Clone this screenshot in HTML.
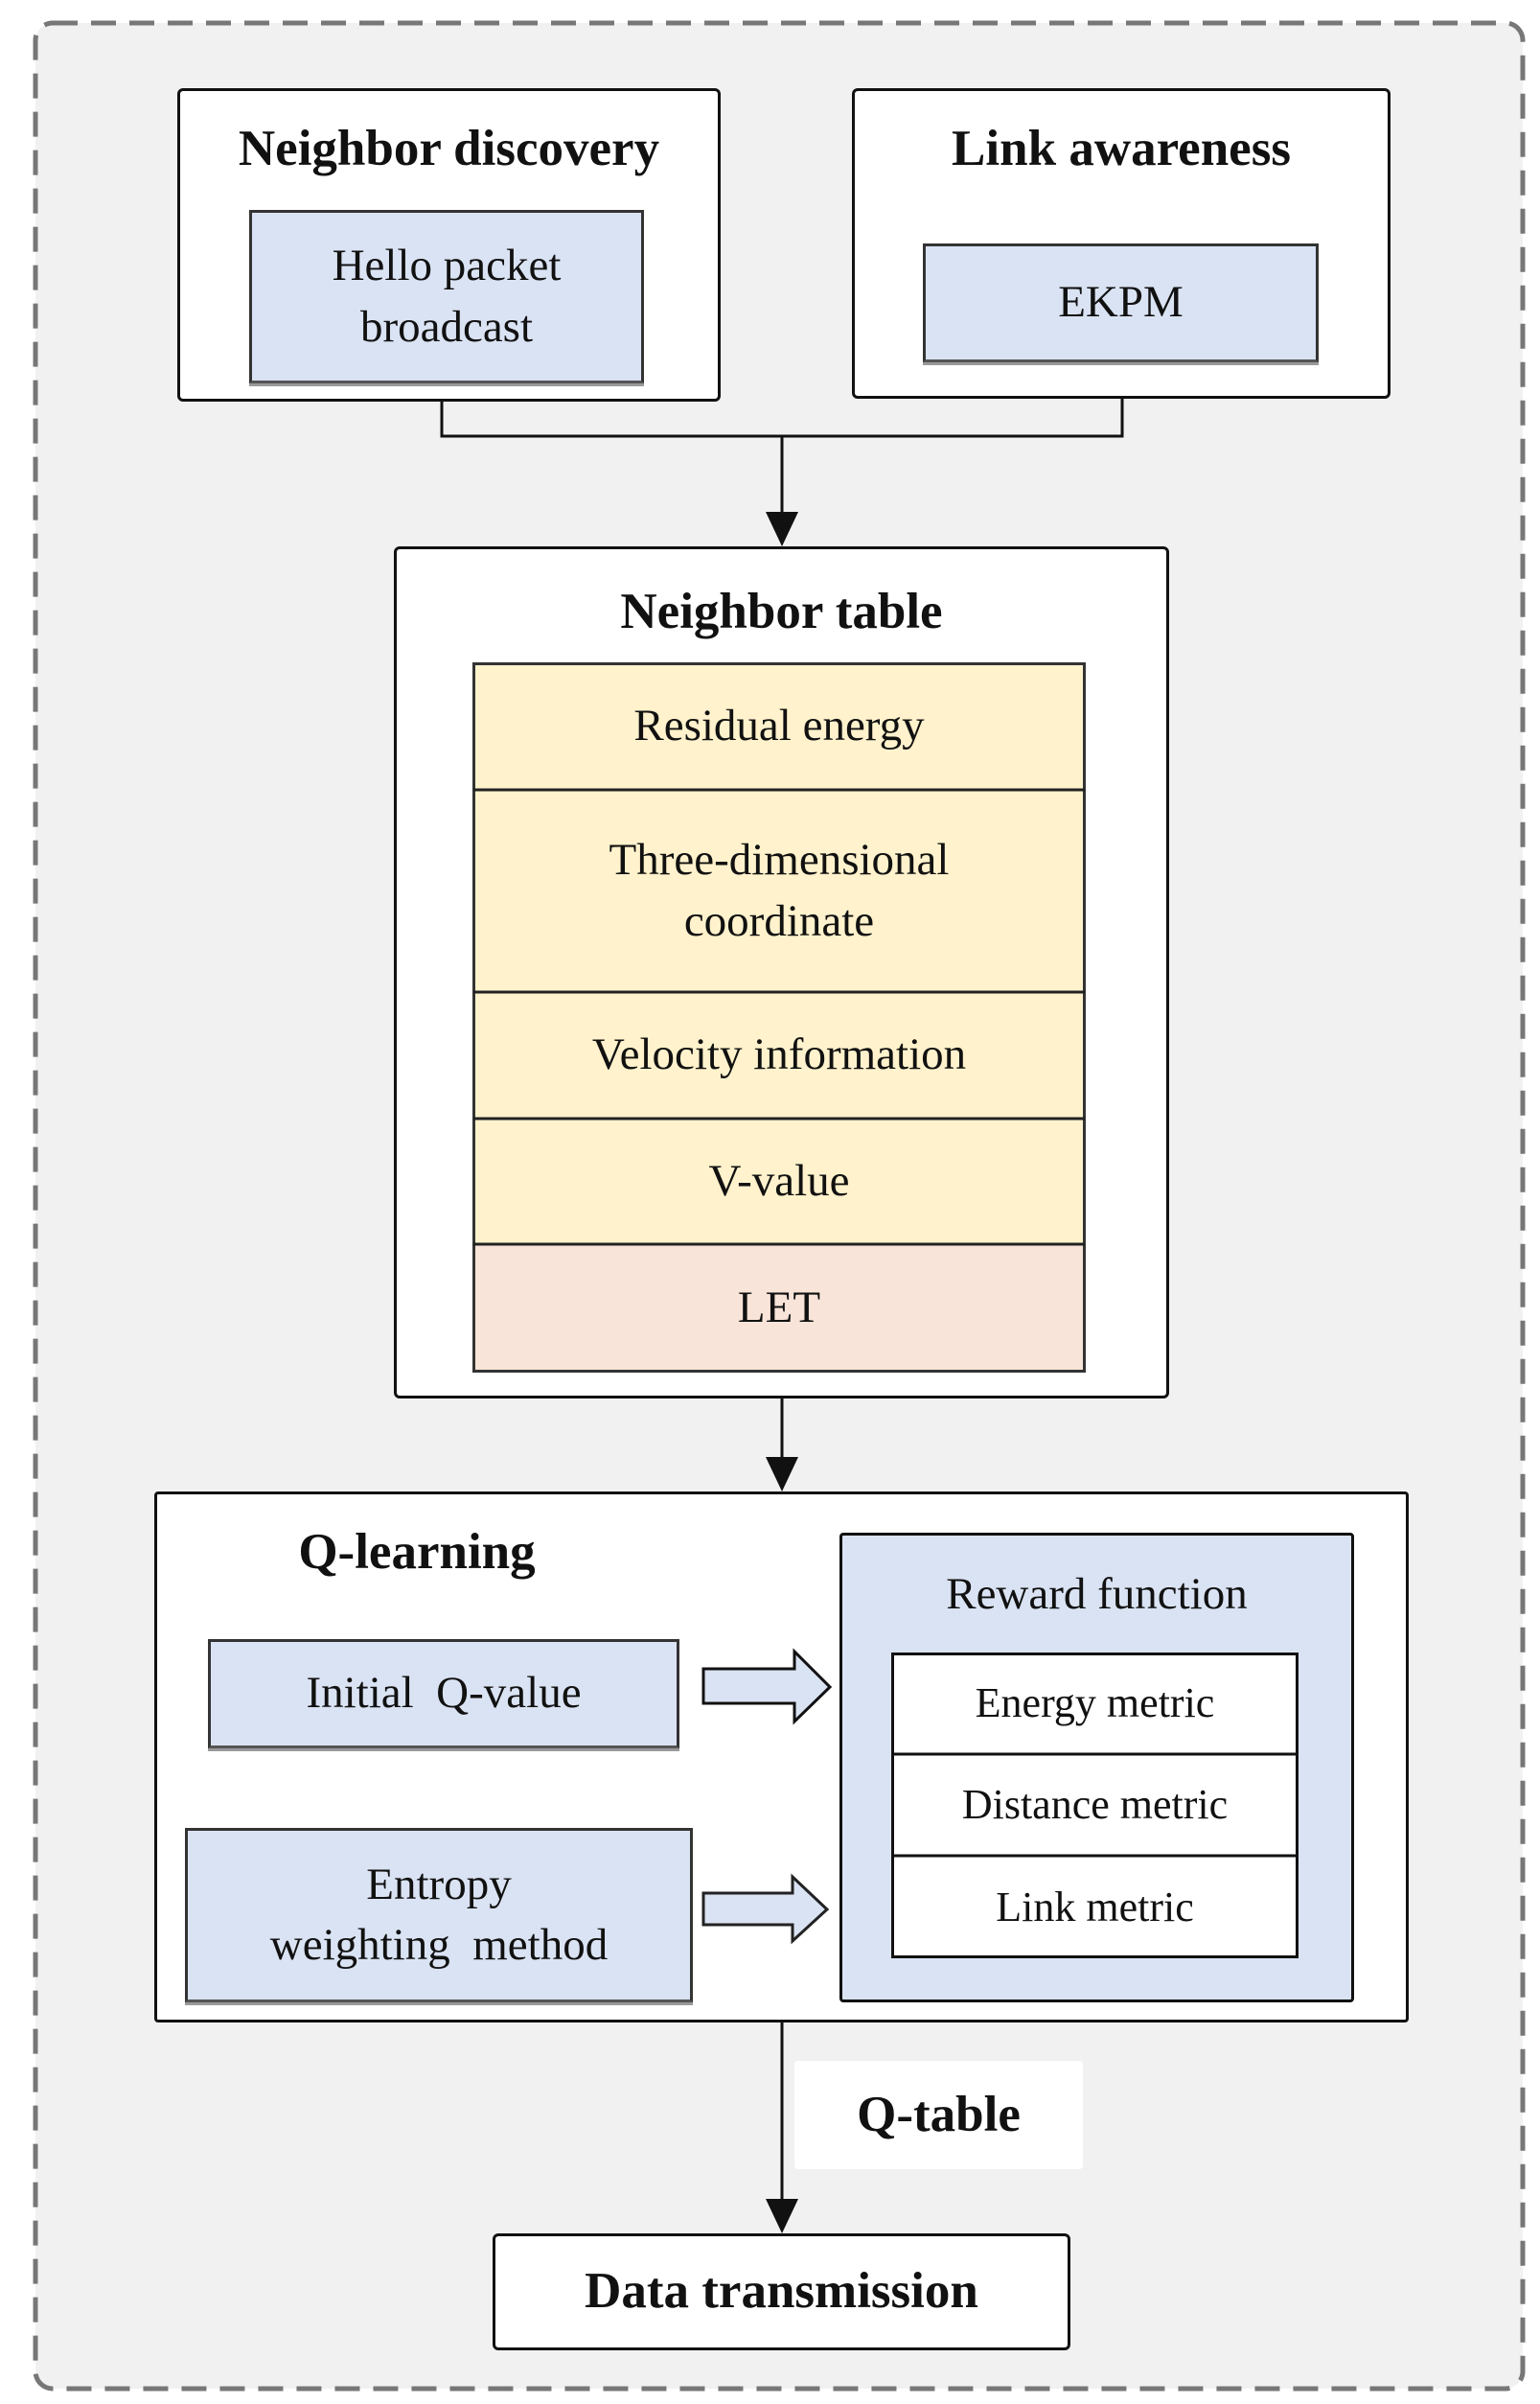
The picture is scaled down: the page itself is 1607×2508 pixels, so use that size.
<!DOCTYPE html>
<html><head><meta charset="utf-8"><style>
html,body{margin:0;padding:0;width:1607px;height:2508px;background:#fff;overflow:hidden;}
.a{position:absolute;box-sizing:border-box;display:flex;align-items:center;justify-content:center;text-align:center;font-family:"Liberation Serif",serif;color:#111;line-height:1.35;}
.w{background:#fff;border:3px solid #111;border-radius:6px;}
.b{background:#dae3f3;border:3px solid #333;border-bottom-color:#555;box-shadow:0 3px 0 #999;}
.t{font-weight:bold;font-size:53px;}
.n{font-size:47px;}
</style></head><body>
<svg style="position:absolute;left:0;top:0" width="1607" height="2508">
<rect x="37" y="24" width="1552" height="2468" rx="18" fill="#f1f1f1" stroke="#777" stroke-width="5" stroke-dasharray="26,14"/>
<polyline points="461,419 461,455 1171,455 1171,416" fill="none" stroke="#111" stroke-width="3"/>
<line x1="816" y1="455" x2="816" y2="540" stroke="#111" stroke-width="3"/>
<polygon points="799,534 833,534 816,570" fill="#111"/>
<line x1="816" y1="1459" x2="816" y2="1525" stroke="#111" stroke-width="3"/>
<polygon points="799,1520 833,1520 816,1556" fill="#111"/>
<line x1="816" y1="2110" x2="816" y2="2300" stroke="#111" stroke-width="3"/>
<polygon points="799,2294 833,2294 816,2330" fill="#111"/>
</svg>

<div class="a w" style="left:185px;top:92px;width:567px;height:327px;align-items:flex-start;padding-top:25px;"><span class="t">Neighbor discovery</span></div>
<div class="a b n" style="left:260px;top:219px;width:412px;height:181px;">Hello packet<br>broadcast</div>
<div class="a w" style="left:889px;top:92px;width:562px;height:324px;align-items:flex-start;padding-top:25px;"><span class="t">Link awareness</span></div>
<div class="a b n" style="left:963px;top:254px;width:413px;height:124px;">EKPM</div>

<div class="a w" style="left:411px;top:570px;width:809px;height:889px;align-items:flex-start;padding-top:30px;"><span class="t">Neighbor table</span></div>
<div class="a n" style="left:493px;top:691px;width:640px;height:134px;background:#fff2cc;">Residual energy</div>
<div class="a n" style="left:493px;top:824px;width:640px;height:211px;background:#fff2cc;">Three-dimensional<br>coordinate</div>
<div class="a n" style="left:493px;top:1035px;width:640px;height:132px;background:#fff2cc;">Velocity information</div>
<div class="a n" style="left:493px;top:1167px;width:640px;height:131px;background:#fff2cc;">V-value</div>
<div class="a n" style="left:493px;top:1298px;width:640px;height:134px;background:#f8e4d8;">LET</div>
<svg style="position:absolute;left:0;top:0" width="1607" height="2508">
<rect x="494.5" y="692.5" width="637" height="738" fill="none" stroke="#333" stroke-width="3"/>
<line x1="494" y1="824" x2="1132" y2="824" stroke="#222" stroke-width="3"/>
<line x1="494" y1="1035" x2="1132" y2="1035" stroke="#222" stroke-width="3"/>
<line x1="494" y1="1167" x2="1132" y2="1167" stroke="#222" stroke-width="3"/>
<line x1="494" y1="1298" x2="1132" y2="1298" stroke="#222" stroke-width="3"/>
</svg>

<div class="a w" style="left:161px;top:1556px;width:1309px;height:554px;border-radius:4px;"></div>
<div class="a t" style="left:270px;top:1580px;width:330px;height:80px;">Q-learning</div>
<div class="a b n" style="left:217px;top:1710px;width:492px;height:114px;">Initial&nbsp; Q-value</div>
<div class="a b n" style="left:193px;top:1907px;width:530px;height:182px;">Entropy<br>weighting&nbsp; method</div>
<svg style="position:absolute;left:0;top:0" width="1607" height="2508">
<polygon points="734,1741 829,1741 829,1723 866,1760 829,1796 829,1777 734,1777" fill="#dae3f3" stroke="#111" stroke-width="3"/>
<polygon points="734,1975 827,1975 827,1958 863,1992 827,2025 827,2008 734,2008" fill="#dae3f3" stroke="#222" stroke-width="3"/>
</svg>
<div class="a" style="left:876px;top:1599px;width:537px;height:490px;background:#dae3f3;border:3px solid #111;border-radius:4px;align-items:flex-start;padding-top:30px;"><span class="n">Reward function</span></div>
<div class="a" style="left:930px;top:1724px;width:425px;height:106px;background:#fff;font-size:44px;">Energy metric</div>
<div class="a" style="left:930px;top:1830px;width:425px;height:106px;background:#fff;font-size:44px;">Distance metric</div>
<div class="a" style="left:930px;top:1936px;width:425px;height:107px;background:#fff;font-size:44px;">Link metric</div>
<svg style="position:absolute;left:0;top:0" width="1607" height="2508">
<rect x="931.5" y="1725.5" width="422" height="316" fill="none" stroke="#111" stroke-width="3"/>
<line x1="931" y1="1830" x2="1354" y2="1830" stroke="#111" stroke-width="3"/>
<line x1="931" y1="1936" x2="1354" y2="1936" stroke="#111" stroke-width="3"/>
</svg>

<div class="a t" style="left:829px;top:2150px;width:301px;height:113px;background:#fff;border-radius:4px;">Q-table</div>
<div class="a w t" style="left:514px;top:2330px;width:603px;height:122px;">Data transmission</div>
</body></html>
